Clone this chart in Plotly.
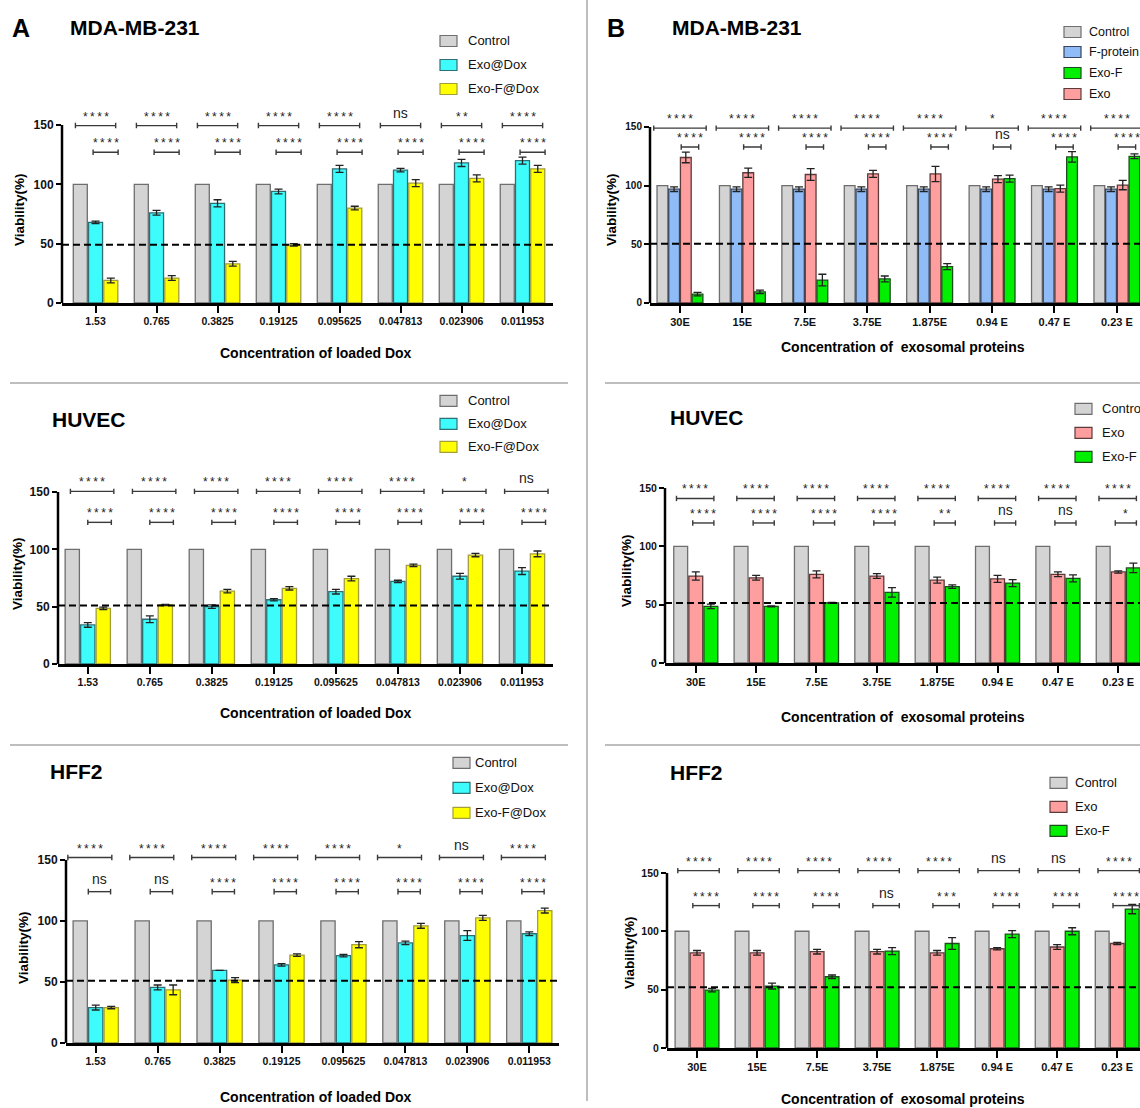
import plotly.graph_objects as go

W, H = 1140, 1108
FONT = "Arial, Liberation Sans, sans-serif"
# the photographed page comes out very slightly compressed vertically; layout
# targets (in pixels) are divided by this factor
V_SCALE = 0.99375

# ---------------- categories ----------------
dox_labels = ["1.53", "0.765", "0.3825", "0.19125", "0.095625", "0.047813", "0.023906", "0.011953"]
prot_labels = ["30E", "15E", "7.5E", "3.75E", "1.875E", "0.94 E", "0.47 E", "0.23 E"]

# ---------------- A: MDA-MB-231 (loaded Dox) ----------------
a1_control = [100, 100, 100, 100, 100, 100, 100, 100]
a1_exo_dox = [68, 76, 84, 94, 113, 112, 118, 120]
a1_exo_dox_err = [1, 2, 3, 2, 3, 1.5, 3, 3]
a1_exof_dox = [19, 21, 33, 49, 80, 101, 105, 113]
a1_exof_dox_err = [2, 2, 2, 1, 1.5, 3, 3, 3]
a1_sig_outer = ["****", "****", "****", "****", "****", "ns", "**", "****"]
a1_sig_inner = ["****", "****", "****", "****", "****", "****", "****", "****"]
a1_threshold = 49

# ---------------- A: HUVEC (loaded Dox) ----------------
a2_control = [100, 100, 100, 100, 100, 100, 100, 100]
a2_exo_dox = [34, 39, 50, 56, 63, 72, 76.5, 81]
a2_exo_dox_err = [2, 3, 1.5, 1, 2, 1, 2.5, 3]
a2_exof_dox = [48.5, 51.5, 63.5, 66, 74.5, 86, 95, 96]
a2_exof_dox_err = [1, 0.5, 1.5, 1.5, 2, 1, 1.5, 2.5]
a2_sig_outer = ["****", "****", "****", "****", "****", "****", "*", "ns"]
a2_sig_inner = ["****", "****", "****", "****", "****", "****", "****", "****"]
a2_threshold = 51

# ---------------- A: HFF2 (loaded Dox) ----------------
a3_control = [100, 100, 100, 100, 100, 100, 100, 100]
a3_exo_dox = [29, 45.5, 59.5, 64, 71.5, 82, 88, 89.5]
a3_exo_dox_err = [2, 2, 0, 1, 1, 1.5, 4, 1.5]
a3_exof_dox = [29, 43.5, 51.5, 72, 80.5, 96, 102.5, 108.5]
a3_exof_dox_err = [1, 4, 2, 1, 2.5, 2, 2, 2]
a3_sig_outer = ["****", "****", "****", "****", "****", "*", "ns", "****"]
a3_sig_inner = ["ns", "ns", "****", "****", "****", "****", "****", "****"]
a3_threshold = 51

# ---------------- B: MDA-MB-231 (exosomal proteins) ----------------
b1_control = [100, 100, 100, 100, 100, 100, 100, 100]
b1_fprotein = [97, 97, 97, 97, 97, 97, 97, 97]
b1_fprotein_err = [2, 2, 2, 2, 2, 2, 2, 2]
b1_exo = [124, 111, 109.5, 110, 110, 105.5, 97.5, 100.5]
b1_exo_err = [4.5, 4, 5, 3, 6.5, 3, 3, 4]
b1_exof = [7.5, 9.5, 19.5, 20.5, 31, 106, 124.5, 125]
b1_exof_err = [1.5, 1.5, 5, 2.5, 2.5, 3, 4.5, 2]
b1_sig_outer = ["****", "****", "****", "****", "****", "*", "****", "****"]
b1_sig_inner = ["****", "****", "****", "****", "****", "ns", "****", "****"]
b1_threshold = 50.5

# ---------------- B: HUVEC (exosomal proteins) ----------------
b2_control = [100, 100, 100, 100, 100, 100, 100, 100]
b2_exo = [74.5, 73, 76, 74.5, 71, 72, 76, 78]
b2_exo_err = [3.5, 2, 3, 2, 2.5, 3, 2, 1]
b2_exof = [48.5, 48.5, 51.5, 60.5, 65.5, 68.5, 72.5, 81.5]
b2_exof_err = [2, 0.5, 0.5, 4, 1.5, 3, 3, 4]
b2_sig_outer = ["****", "****", "****", "****", "****", "****", "****", "****"]
b2_sig_inner = ["****", "****", "****", "****", "**", "ns", "ns", "*"]
b2_threshold = 51.5

# ---------------- B: HFF2 (exosomal proteins) ----------------
b3_control = [100, 100, 100, 100, 100, 100, 100, 100]
b3_exo = [81.5, 81.5, 82.5, 82.5, 81.5, 85, 86.5, 89.5]
b3_exo_err = [2, 2, 2, 2, 2, 1, 2, 1]
b3_exof = [49.5, 53, 61, 83, 89.5, 97.5, 100, 119]
b3_exof_err = [1.5, 2.5, 1.5, 3, 5, 3, 3, 4]
b3_sig_outer = ["****", "****", "****", "****", "****", "ns", "ns", "****"]
b3_sig_inner = ["****", "****", "****", "ns", "***", "****", "****", "****"]
b3_threshold = 52

# ---------------- styles ----------------
C_CONTROL = ("#d4d4d4", "#6e6e6e")
C_EXODOX = ("#3ffcfc", "#2f6f74")
C_EXOFDOX = ("#ffff00", "#a39d3c")
C_FPROT = ("#8fbcf6", "#38445a")
C_EXO = ("#ff9e9e", "#5c3b3b")
C_EXOF = ("#00f000", "#1c4d1c")

YMAX = 168


def px(x):
    return x / W


def py(y):
    return 1 - (y / V_SCALE) / H


panels = [
    dict(cats=dox_labels,
         series=[("Control", a1_control, None, C_CONTROL),
                 ("Exo@Dox", a1_exo_dox, a1_exo_dox_err, C_EXODOX),
                 ("Exo-F@Dox", a1_exof_dox, a1_exof_dox_err, C_EXOFDOX)],
         legend_order=[0, 1, 2], sig_outer=a1_sig_outer, sig_inner=a1_sig_inner, thr=a1_threshold,
         xpx=(62, 553), y0=303, y150=125, xr=(-0.55, 7.5),
         title="MDA-MB-231", tpos=(68, 28), ytx=20, yty=210,
         xtitle="Concentration of loaded Dox", xtpos=(316, 353),
         ytick=12, xtick=10.5,
         leg=(440, [41, 65, 89], 466, 13),
         btop=(149.5, -0.33, 0.33), blow=(127, -0.04, 0.37)),
    dict(cats=dox_labels,
         series=[("Control", a2_control, None, C_CONTROL),
                 ("Exo@Dox", a2_exo_dox, a2_exo_dox_err, C_EXODOX),
                 ("Exo-F@Dox", a2_exof_dox, a2_exof_dox_err, C_EXOFDOX)],
         legend_order=[0, 1, 2], sig_outer=a2_sig_outer, sig_inner=a2_sig_inner, thr=a2_threshold,
         xpx=(58, 553), y0=664, y150=492, xr=(-0.48, 7.5),
         title="HUVEC", tpos=(50, 420), ytx=18, yty=574,
         xtitle="Concentration of loaded Dox", xtpos=(316, 713),
         ytick=12, xtick=10.5,
         leg=(440, [401, 424, 447], 466, 13),
         btop=(150.5, -0.28, 0.42), blow=(123.5, 0.0, 0.38)),
    dict(cats=dox_labels,
         series=[("Control", a3_control, None, C_CONTROL),
                 ("Exo@Dox", a3_exo_dox, a3_exo_dox_err, C_EXODOX),
                 ("Exo-F@Dox", a3_exof_dox, a3_exof_dox_err, C_EXOFDOX)],
         legend_order=[0, 1, 2], sig_outer=a3_sig_outer, sig_inner=a3_sig_inner, thr=a3_threshold,
         xpx=(66, 559), y0=1043, y150=860, xr=(-0.48, 7.48),
         title="HFF2", tpos=(48, 772), ytx=24, yty=948,
         xtitle="Concentration of loaded Dox", xtpos=(316, 1097),
         ytick=12, xtick=10.5,
         leg=(453, [763, 788, 813], 473, 13),
         btop=(152, -0.45, 0.26), blow=(124, -0.12, 0.24)),
    dict(cats=prot_labels,
         series=[("Control", b1_control, None, C_CONTROL),
                 ("F-protein", b1_fprotein, b1_fprotein_err, C_FPROT),
                 ("Exo", b1_exo, b1_exo_err, C_EXO),
                 ("Exo-F", b1_exof, b1_exof_err, C_EXOF)],
         legend_order=[0, 1, 3, 2], sig_outer=b1_sig_outer, sig_inner=b1_sig_inner, thr=b1_threshold,
         xpx=(650, 1140), y0=303, y150=127, xr=(-0.48, 7.37),
         title="MDA-MB-231", tpos=(670, 28), ytx=612, yty=210,
         xtitle="Concentration of  exosomal proteins", xtpos=(903, 347),
         ytick=10, xtick=11,
         leg=(1064, [32, 52, 73, 94], 1087, 12.5),
         btop=(149, -0.42, 0.42), blow=(133, 0.02, 0.3)),
    dict(cats=prot_labels,
         series=[("Control", b2_control, None, C_CONTROL),
                 ("Exo", b2_exo, b2_exo_err, C_EXO),
                 ("Exo-F", b2_exof, b2_exof_err, C_EXOF)],
         legend_order=[0, 1, 2], sig_outer=b2_sig_outer, sig_inner=b2_sig_inner, thr=b2_threshold,
         xpx=(665, 1140), y0=663, y150=488, xr=(-0.51, 7.36),
         title="HUVEC", tpos=(668, 418), ytx=627, yty=571,
         xtitle="Concentration of  exosomal proteins", xtpos=(903, 717),
         ytick=10.5, xtick=11,
         leg=(1075, [409, 433, 457], 1100, 13),
         btop=(141, -0.32, 0.3), blow=(120, -0.05, 0.3)),
    dict(cats=prot_labels,
         series=[("Control", b3_control, None, C_CONTROL),
                 ("Exo", b3_exo, b3_exo_err, C_EXO),
                 ("Exo-F", b3_exof, b3_exof_err, C_EXOF)],
         legend_order=[0, 1, 2], sig_outer=b3_sig_outer, sig_inner=b3_sig_inner, thr=b3_threshold,
         xpx=(667, 1140), y0=1048, y150=873, xr=(-0.5, 7.38),
         title="HFF2", tpos=(668, 773), ytx=630, yty=953,
         xtitle="Concentration of  exosomal proteins", xtpos=(903, 1099),
         ytick=10.5, xtick=11,
         leg=(1050, [783, 807, 831], 1073, 13),
         btop=(152, -0.32, 0.37), blow=(122, -0.07, 0.37)),
]

fig = go.Figure()
shapes = []
annotations = []
layout_axes = {}

LINE_C = "#3a3a3a"
THIN = "\u2009"


def fmt_sig(s):
    if s == "ns":
        return s
    return THIN.join(list(s))


for k, p in enumerate(panels, start=1):
    sfx = "" if k == 1 else str(k)
    xn, yn = "x" + sfx, "y" + sfx
    for name, vals, errs, (fill, edge) in p["series"]:
        bar = go.Bar(
            x=p["cats"], y=vals, name=name, showlegend=False,
            marker=dict(color=fill, line=dict(color=edge, width=1.3)),
            xaxis=xn, yaxis=yn,
        )
        if errs is not None:
            bar.error_y = dict(type="data", array=errs, visible=True,
                               color="#222222", thickness=1.3, width=4)
        fig.add_trace(bar)

    scale = (p["y0"] - p["y150"]) / 150.0
    ptop = p["y0"] - YMAX * scale
    layout_axes["xaxis" + sfx] = dict(
        domain=[px(p["xpx"][0]), px(p["xpx"][1])], anchor=yn, type="category",
        range=list(p["xr"]), showline=True, linecolor="black", linewidth=2.5,
        ticks="outside", ticklen=7, tickwidth=2, tickcolor="black",
        tickfont=dict(family=FONT, size=p["xtick"], color="#111", weight="bold"),
        showgrid=False, zeroline=False, fixedrange=True,
    )
    layout_axes["yaxis" + sfx] = dict(
        domain=[py(p["y0"]), py(ptop)], anchor=xn, range=[0, YMAX],
        tickvals=[0, 50, 100, 150], showline=False,
        ticks="outside", ticklen=5, tickwidth=2, tickcolor="black",
        tickfont=dict(family=FONT, size=p["ytick"], color="#111", weight="bold"),
        showgrid=False, zeroline=False, fixedrange=True,
    )
    # y axis line from 0 to 150
    shapes.append(dict(type="line", xref=xn + " domain", yref=yn, x0=0, x1=0, y0=0, y1=150,
                       line=dict(color="black", width=2.5)))
    # 50 % reference line
    shapes.append(dict(type="line", xref=xn + " domain", yref=yn, x0=0, x1=1,
                       y0=p["thr"], y1=p["thr"], line=dict(color="black", width=2, dash="7px,4px")))
    # significance brackets
    for (lvl, a, b), sigs in ((p["btop"], p["sig_outer"]), (p["blow"], p["sig_inner"])):
        for i, s in enumerate(sigs):
            x0, x1 = i + a, i + b
            shapes.append(dict(type="line", xref=xn, yref=yn, x0=x0, x1=x1, y0=lvl, y1=lvl,
                               line=dict(color=LINE_C, width=1.4)))
            for xe in (x0, x1):
                shapes.append(dict(type="line", xref=xn, yref=yn, x0=xe, x1=xe,
                                   y0=lvl - 2.3, y1=lvl + 2.3, line=dict(color=LINE_C, width=1.4)))
            is_ns = s == "ns"
            annotations.append(dict(
                xref=xn, yref=yn, x=i + (a + b) / 2, y=lvl, text=fmt_sig(s),
                showarrow=False, yanchor="bottom", yshift=3 if is_ns else 0,
                font=dict(family=FONT, size=14 if is_ns else 12, color="#222"),
            ))
    annotations.append(dict(xref="paper", yref="paper", x=px(p["tpos"][0]), y=py(p["tpos"][1]),
                            text=p["title"], showarrow=False, xanchor="left", yanchor="middle",
                            font=dict(family=FONT, size=21, color="black", weight="bold")))
    annotations.append(dict(xref="paper", yref="paper", x=px(p["ytx"]), y=py(p["yty"]),
                            text="Viability(%)", textangle=-90, showarrow=False,
                            xanchor="center", yanchor="middle",
                            font=dict(family=FONT, size=13.5, color="black", weight="bold")))
    annotations.append(dict(xref="paper", yref="paper", x=px(p["xtpos"][0]), y=py(p["xtpos"][1]),
                            text=p["xtitle"], showarrow=False, xanchor="center", yanchor="middle",
                            font=dict(family=FONT, size=14, color="black", weight="bold")))
    lx, lys, ltx, lfs = p["leg"]
    for row, si in enumerate(p["legend_order"]):
        name, _, _, (fill, edge) = p["series"][si]
        ly = lys[row]
        shapes.append(dict(type="rect", xref="paper", yref="paper",
                           x0=px(lx), x1=px(lx + 17), y0=py(ly + 5.5), y1=py(ly - 5.5),
                           fillcolor=fill, line=dict(color=edge, width=1.2)))
        annotations.append(dict(xref="paper", yref="paper", x=px(ltx), y=py(ly), text=name,
                                showarrow=False, xanchor="left", yanchor="middle",
                                font=dict(family=FONT, size=lfs, color="#111")))

for letter, xpos in (("A", 10), ("B", 605)):
    annotations.append(dict(xref="paper", yref="paper", x=px(xpos), y=py(28), text=letter,
                            showarrow=False, xanchor="left", yanchor="middle",
                            font=dict(family=FONT, size=25, color="black", weight="bold")))

DIV = "#a8a8a8"
shapes.append(dict(type="line", xref="paper", yref="paper", x0=px(587), x1=px(587), y0=0, y1=1,
                   line=dict(color=DIV, width=1.5)))
for yy in (383, 745):
    shapes.append(dict(type="line", xref="paper", yref="paper", x0=px(10), x1=px(568),
                       y0=py(yy), y1=py(yy), line=dict(color=DIV, width=1.5)))
    shapes.append(dict(type="line", xref="paper", yref="paper", x0=px(605), x1=1,
                       y0=py(yy), y1=py(yy), line=dict(color=DIV, width=1.5)))

fig.update_layout(
    width=W, height=H, margin=dict(l=0, r=0, t=0, b=0, pad=0),
    paper_bgcolor="white", plot_bgcolor="white",
    barmode="group", bargap=0.25, bargroupgap=0.08,
    showlegend=False, shapes=shapes, annotations=annotations,
    font=dict(family=FONT),
    **layout_axes,
)

fig.write_html(
    "out.html",
    config={"displayModeBar": False},
    post_script=(
        "document.documentElement.style.margin='0';"
        "document.documentElement.style.overflow='hidden';"
        "document.body.style.margin='0';"
        "document.body.style.overflow='hidden';"
    ),
)
